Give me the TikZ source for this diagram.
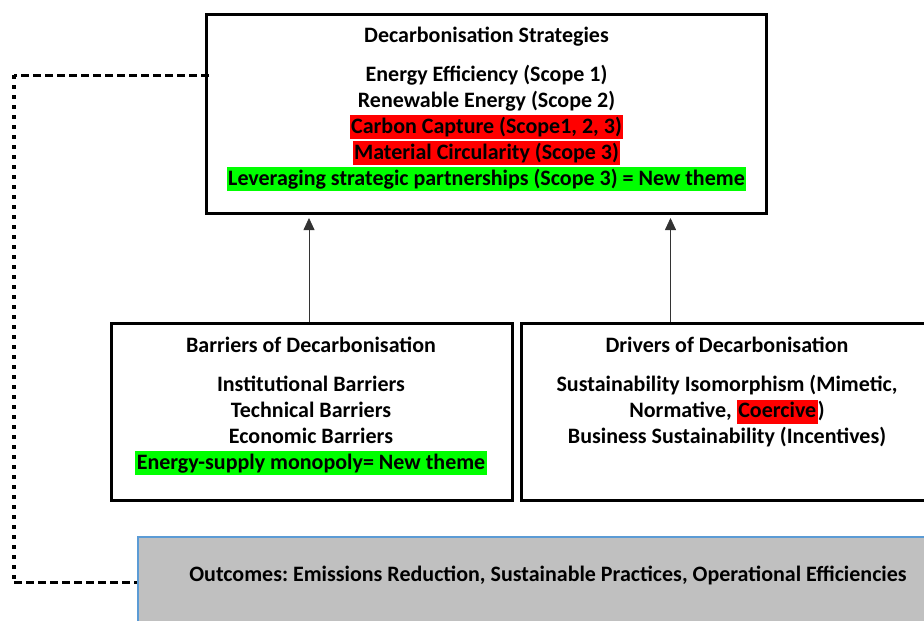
\documentclass[tikz,border=0pt]{standalone}
\usepackage{fontspec}
\setmainfont{Carlito}
\usetikzlibrary{arrows.meta}
\definecolor{hlgreen}{RGB}{0,255,0}
\definecolor{outgray}{RGB}{192,192,192}
\definecolor{outblue}{RGB}{91,155,213}
\newcommand{\hlred}[1]{{\setlength{\fboxsep}{0pt}\colorbox{red}{\rule[-6pt]{0pt}{24pt}\kern1.5pt#1\kern1.5pt}}}
\newcommand{\hlgreen}[1]{{\setlength{\fboxsep}{0pt}\colorbox{hlgreen}{\rule[-6pt]{0pt}{24pt}\kern1.5pt#1\kern1.5pt}}}
\frenchspacing
\begin{document}
\begin{tikzpicture}[x=1pt, y=-1pt,
    box/.style={rectangle, draw, line width=3pt, inner sep=0pt},
    txt/.style={align=center, inner sep=0pt, font=\fontsize{22}{26}\selectfont\bfseries},
    arrow/.style={-{Triangle[width=11pt,length=12pt]}, line width=0.8pt, black!80, shorten >=3pt},
    dashline/.style={line width=3pt, dash pattern=on 8pt off 4pt},
    dotline/.style={line width=3.5pt, dash pattern=on 3.5pt off 6.5pt}
]
    \useasboundingbox (0,0) rectangle (924,621);

    \node[box, minimum width=560pt, minimum height=199pt] (strat) at (486.5,114) {};
    \node[box, minimum width=401pt, minimum height=177pt] (barr) at (312,412) {};
    \node[box, minimum width=420pt, minimum height=177pt] (driv) at (731.5,412) {};
    \node[rectangle, draw=outblue, fill=outgray, line width=1.5pt, inner sep=0pt,
          minimum width=802pt, minimum height=90pt] (outc) at (539,582) {};

    \node[txt] (stratTxt) at (486.5,109) {Decarbonisation Strategies\\[13pt]
        Energy Efficiency (Scope 1)\\
        Renewable Energy (Scope 2)\\
        \hlred{Carbon Capture (Scope1, 2, 3)}\\
        \hlred{Material Circularity (Scope 3)}\\
        \hlgreen{Leveraging strategic partnerships (Scope 3) = New theme}};
    \node[txt] (barrTxt) at (311,406) {Barriers of Decarbonisation\\[13pt]
        Institutional Barriers\\
        Technical Barriers\\
        Economic Barriers\\
        \hlgreen{Energy-supply monopoly= New theme}};
    \node[txt] (drivTxt) at (727,392) {Drivers of Decarbonisation\\[13pt]
        Sustainability Isomorphism (Mimetic,\\
        Normative, \hlred{Coercive})\\
        Business Sustainability (Incentives)};
    \node[txt] (outcTxt) at (548,575) {Outcomes: Emissions Reduction, Sustainable Practices, Operational Efficiencies};

    \draw[arrow] ([xshift=-3pt]barr.north) -- ([xshift=-3pt]barr.north |- strat.south);
    \draw[arrow] ([xshift=150.5pt]driv.north west) -- ([xshift=150.5pt]driv.north west |- strat.south);

    \coordinate (c1) at (14,75);
    \coordinate (c2) at (14,582);
    \draw[dashline] ([xshift=4pt]strat.west |- c1) -- (c1);
    \draw[dotline] (c1) -- (c2);
    \draw[dashline] (c2 |- outc.west) -- (outc.west);
\end{tikzpicture}
\end{document}
